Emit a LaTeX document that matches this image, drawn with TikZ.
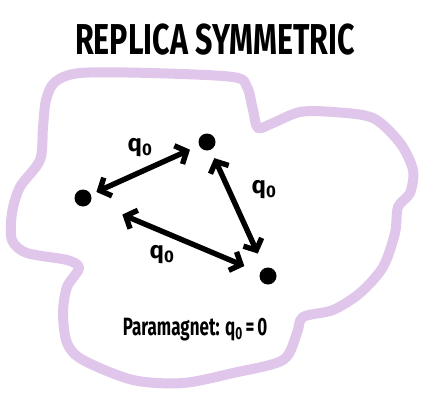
\documentclass[tikz,border=0pt]{standalone}
\usepackage{fontspec}
\setmainfont{Fira Sans}
\usetikzlibrary{arrows.meta}

\definecolor{lavender}{RGB}{224,198,234}

\begin{document}
\begin{tikzpicture}[x=1pt, y=-1pt, >={Straight Barb[length=9pt, width=20pt]},
  dot/.style={circle, fill=black, inner sep=0pt, minimum size=17pt},
  link/.style={<->, line width=5.4pt, line cap=round},
  lbl/.style={font=\fontsize{24}{24}\selectfont\bfseries}]

  % --- 0. 画像の範囲 ---
  \useasboundingbox (0,0) rectangle (430,404);

  % --- 1. タイトル ---
  \node[font=\fontsize{32}{32}\selectfont\bfseries] (title) at (215,40)
    {\scalebox{0.95}[1.35]{REPLICA SYMMETRIC}};

  % --- 2. 外側の領域 (ラベンダー色の輪郭) ---
  \draw[lavender, line width=10pt, line join=round]
    plot[smooth cycle, tension=0.5] coordinates {
      (46,100) (55,82) (80,73) (150,73) (233,77) (247,87) (253,110) (258,128)
      (273,123) (300,112) (333,112) (373,118) (400,143) (413,170)
      (410,193) (398,207) (395,233) (383,267) (360,293) (333,310)
      (303,317) (297,333) (283,360) (233,373) (183,383) (133,380)
      (83,360) (67,343) (63,313) (67,287) (79,268) (67,260) (27,253)
      (12,240) (12,213) (20,187) (40,160) (43,127)};

  % --- 3. レプリカ (黒丸) ---
  \node[dot] (left) at (83,198) {};
  \node[dot] (top) at (207,142) {};
  \node[dot] (right) at (268,276) {};

  % --- 4. 重なり q0 の矢印 ---
  \draw[link, shorten <=6pt, shorten >=10pt] (left) -- (top);
  \draw[link, shorten <=9pt, shorten >=16pt] (top) -- (right);
  \draw[link, shorten <=34pt, shorten >=17pt] (left) -- (right);

  % --- 5. ラベル ---
  \node[lbl] (qa) at (140,148) {q\textsubscript{0}};
  \node[lbl] (qb) at (264,190) {q\textsubscript{0}};
  \node[lbl] (qc) at (162,255) {q\textsubscript{0}};

  \node[font=\fontsize{20}{20}\selectfont\bfseries] (para) at (195,330)
    {\scalebox{0.85}[1.25]{Paramagnet: q\textsubscript{0}\,=\,0}};

\end{tikzpicture}
\end{document}
